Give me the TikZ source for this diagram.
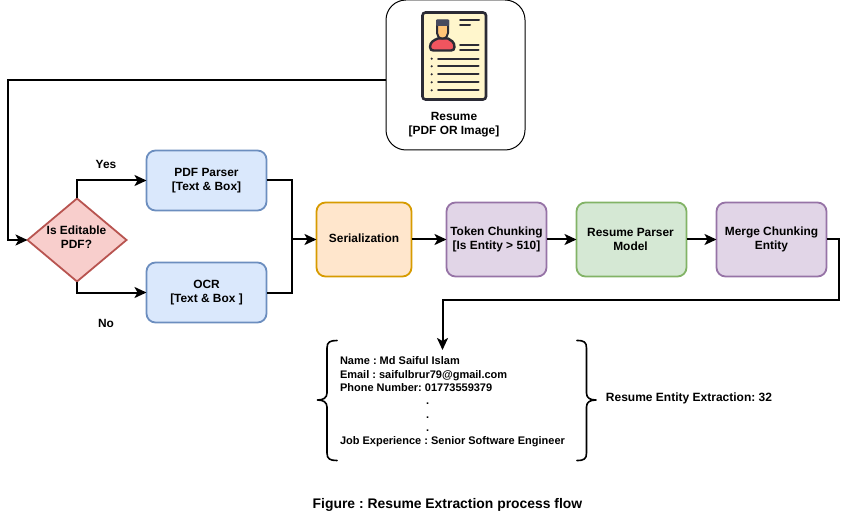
\documentclass[tikz,border=0pt]{standalone}
\usepackage{fontspec}
\setmainfont{Liberation Sans}
\frenchspacing
\usetikzlibrary{arrows.meta,shapes.geometric}
\definecolor{bluef}{HTML}{DAE8FC}\definecolor{blued}{HTML}{6C8EBF}
\definecolor{redf}{HTML}{F8CECC}\definecolor{redd}{HTML}{B85450}
\definecolor{orf}{HTML}{FFE6CC}\definecolor{ord}{HTML}{D79B00}
\definecolor{purf}{HTML}{E1D5E7}\definecolor{purd}{HTML}{9673A6}
\definecolor{grnf}{HTML}{D5E8D4}\definecolor{grnd}{HTML}{82B366}
\definecolor{ink}{HTML}{2B2B35}\definecolor{paper}{HTML}{FFF6CC}
\definecolor{skin}{HTML}{FFC477}\definecolor{shirt}{HTML}{F0555F}\definecolor{hair}{HTML}{474A5E}
\tikzset{
  every node/.style={font=\fontsize{11.9}{14}\selectfont\bfseries,align=center,outer sep=0pt,inner sep=0pt},
  flowbox/.style={draw,rounded corners=9,line width=1.8,minimum height=#1},
  flowbox/.default=74,
  conn/.style={line width=2,-{Stealth[length=12,width=11,inset=3]}},
  plain/.style={line width=2},
  brace/.style={line width=1.6,line cap=round,line join=round},
  inkline/.style={ink,line width=2,line cap=round},
  small/.style={font=\fontsize{11}{13.3}\selectfont\bfseries,align=left}
}
\begin{document}
\begin{tikzpicture}[x=1pt,y=-1pt]
\useasboundingbox (0,0) rectangle (848,521);
\node[draw,line width=1,rounded corners=20,minimum width=139,minimum height=150] (resume) at (455.5,75) {};
% icon
\draw[ink,line width=2.6,fill=paper,rounded corners=3] (422.5,12.5) rectangle (486,99.5);
\draw[ink,line width=2.4,fill=shirt] (430,47) .. controls (430,42) and (434,40) .. (438,38.5) -- (448,38.5) .. controls (451,40) and (454.5,42) .. (454.5,47) .. controls (454.5,49.5) and (453,50.5) .. (451,50.5) -- (433.5,50.5) .. controls (431.5,50.5) and (430,49.5) .. (430,47) -- cycle;
\draw[ink,line width=2,fill=skin] (437,21) -- (448,21) -- (448,33) .. controls (448,36) and (446,38.5) .. (442.5,38.5) .. controls (439,38.5) and (437,36) .. (437,33) -- cycle;
\fill[hair,rounded corners=1] (436,19.5) rectangle (449,26);
\draw[inkline] (460,20) -- (479,20) (460,25.5) -- (470,25.5) (460,44.7) -- (478.5,44.7) (460,50) -- (478.5,50);
\foreach \yy in {58.7,66.3,74.3,82.3,90.3}{
  \fill[ink] (431.7,\yy) circle (1.2);
  \draw[inkline] (438,\yy) -- (478.5,\yy);
}
\node (resumelabel) at (454,125) {Resume\\{}[PDF OR Image]};
% nodes
\node[draw=redd,fill=redf,line width=1.8,diamond,aspect=1.19,minimum width=99,minimum height=83] (dec) at (77,240) {};
\node (declabel) at (76.5,237.5) {Is Editable\\PDF?};
\node[flowbox=60,draw=blued,fill=bluef,minimum width=120] (pdf) at (206.5,180.5) {PDF Parser\\{}[Text \& Box]};
\node[flowbox=60,draw=blued,fill=bluef,minimum width=120] (ocr) at (206.5,292.5) {OCR\\{}[Text \& Box ]};
\node[flowbox,draw=ord,fill=orf,minimum width=95] (ser) at (364,239.5) {Serialization\rule[-3pt]{0pt}{0pt}};
\node[flowbox,draw=purd,fill=purf,minimum width=100] (tok) at (496.5,239.5) {Token Chunking\\{}[Is Entity > 510]};
\node[flowbox,draw=grnd,fill=grnf,minimum width=110] (par) at (631.5,239.5) {\hspace{-2pt}Resume Parser\\\hspace{-2pt}Model};
\node[flowbox,draw=purd,fill=purf,minimum width=110] (mer) at (771.5,239.5) {Merge Chunking\\Entity};
\node (yes) at (106,164) {Yes};
\node (no) at (106,323.5) {No};
\node[small,anchor=north west] (info) at (340,357) {Name : Md Saiful Islam\\Email : saifulbrur79@gmail.com\\Phone Number: 01773559379\\\hspace{86pt}.\\\hspace{86pt}.\\\hspace{86pt}.\\Job Experience : Senior Software Engineer};
\node[font=\fontsize{12}{14}\selectfont\bfseries] (count) at (689,398.5) {Resume Entity Extraction: 32};
\node[font=\fontsize{13.9}{15}\selectfont\bfseries] (cap) at (447.5,505) {Figure : Resume Extraction process flow};
% connectors
\coordinate (rs) at (resume.west |- 0,80);
\draw[conn] (rs) -- (8,80) -- (8,240) -- (dec.west);
\draw[conn] (dec.north) -- (77,180.5) -- (pdf.west);
\draw[conn] (dec.south) -- (77,292.5) -- (ocr.west);
\draw[plain] (pdf.east) -- (291.5,180.5) -- (291.5,292.5) -- (ocr.east);
\coordinate (join) at (291.5,239.5);
\draw[conn] (join) -- (ser.west);
\draw[conn] (ser.east) -- (tok.west);
\draw[conn] (tok.east) -- (par.west);
\draw[conn] (par.east) -- (mer.west);
\coordinate (dn) at (442.5,350);
\draw[conn] (mer.east) -- (839,239.5) -- (839,300) -- (442.5,300) -- (dn);
% braces
\draw[brace] (337,340.5) .. controls (330,340.5) and (327,342) .. (327,348) -- (327,393) .. controls (327,398) and (323,400) .. (317.5,400) .. controls (323,400) and (327,402) .. (327,407) -- (327,453) .. controls (327,459) and (330,460.5) .. (337,460.5);
\draw[brace] (577,340.5) .. controls (584,340.5) and (586.5,342) .. (586.5,348) -- (586.5,393) .. controls (586.5,398) and (590,400) .. (596,400) .. controls (590,400) and (586.5,402) .. (586.5,407) -- (586.5,453) .. controls (586.5,459) and (584,460.5) .. (577,460.5);
\end{tikzpicture}
\end{document}
